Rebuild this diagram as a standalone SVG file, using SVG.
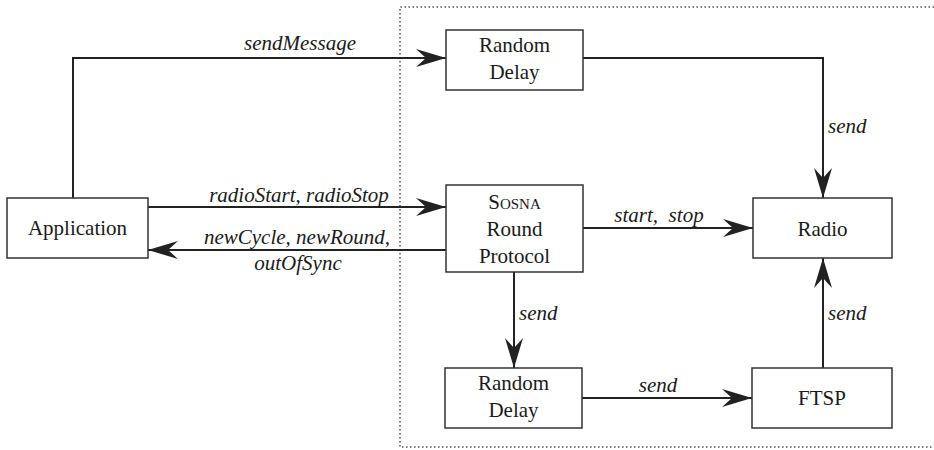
<svg xmlns="http://www.w3.org/2000/svg" width="934" height="450" viewBox="0 0 934 450">
<style>
.box{fill:#fff;stroke:#333;stroke-width:1.5}
text{font-family:'Liberation Serif','DejaVu Serif','Noto Serif',Tinos,'Nimbus Roman','FreeSerif',serif;font-size:21px;fill:#1a1a1a}
.t{text-anchor:middle}
.l{font-style:italic}
.c{fill:none;stroke:#222;stroke-width:2}
.dot{fill:none;stroke:#555;stroke-width:1.5;stroke-dasharray:1.5 2.5}
</style>
<defs>
<marker id="ah" viewBox="0 0 30 18" refX="30" refY="9" markerWidth="30" markerHeight="18" markerUnits="userSpaceOnUse" orient="auto">
<path d="M30,9 L0,0 L10,9 L0,18 Z" fill="#222"/>
</marker>
</defs>
<rect width="934" height="450" fill="#fff"/>
<path class="dot" d="M934,7 H400 V447 H934"/>
<g id="connectors">
<path class="c" d="M73,198 V58 H446" marker-end="url(#ah)"/>
<path class="c" d="M583,58 H823 V198" marker-end="url(#ah)"/>
<path class="c" d="M148,207 H446" marker-end="url(#ah)"/>
<path class="c" d="M446,250 H148" marker-end="url(#ah)"/>
<path class="c" d="M583,228 H753" marker-end="url(#ah)"/>
<path class="c" d="M514,272 V368" marker-end="url(#ah)"/>
<path class="c" d="M582,398 H752" marker-end="url(#ah)"/>
<path class="c" d="M823,368 V258" marker-end="url(#ah)"/>
<text class="l" x="300" y="50" text-anchor="middle">sendMessage</text>
<text class="l" x="828" y="133">send</text>
<text class="l" x="299" y="202" text-anchor="middle">radioStart, radioStop</text>
<text class="l" x="297" y="244" text-anchor="middle">newCycle, newRound,</text>
<text class="l" x="298" y="270" text-anchor="middle">outOfSync</text>
<text class="l" x="659" y="222" text-anchor="middle" xml:space="preserve">start,  stop</text>
<text class="l" x="519" y="320">send</text>
<text class="l" x="658" y="392" text-anchor="middle">send</text>
<text class="l" x="828" y="320">send</text>
</g>
<g id="application">
<rect class="box" x="7" y="198" width="141" height="60"/>
<text class="t" x="77.5" y="235">Application</text>
</g>
<g id="random-delay-1">
<rect class="box" x="446" y="30" width="137" height="60"/>
<text class="t" x="514.5" y="52">Random</text>
<text class="t" x="514.5" y="79">Delay</text>
</g>
<g id="sosna">
<rect class="box" x="446" y="185" width="137" height="87"/>
<text class="t" x="514.5" y="209">S<tspan font-size="15">OSNA</tspan></text>
<text class="t" x="514.5" y="236">Round</text>
<text class="t" x="514.5" y="263">Protocol</text>
</g>
<g id="radio">
<rect class="box" x="753" y="198" width="139" height="60"/>
<text class="t" x="822.5" y="236">Radio</text>
</g>
<g id="random-delay-2">
<rect class="box" x="445" y="368" width="137" height="60"/>
<text class="t" x="513.5" y="390">Random</text>
<text class="t" x="513.5" y="417">Delay</text>
</g>
<g id="ftsp">
<rect class="box" x="752" y="368" width="140" height="60"/>
<text class="t" x="822" y="405">FTSP</text>
</g>
</svg>
